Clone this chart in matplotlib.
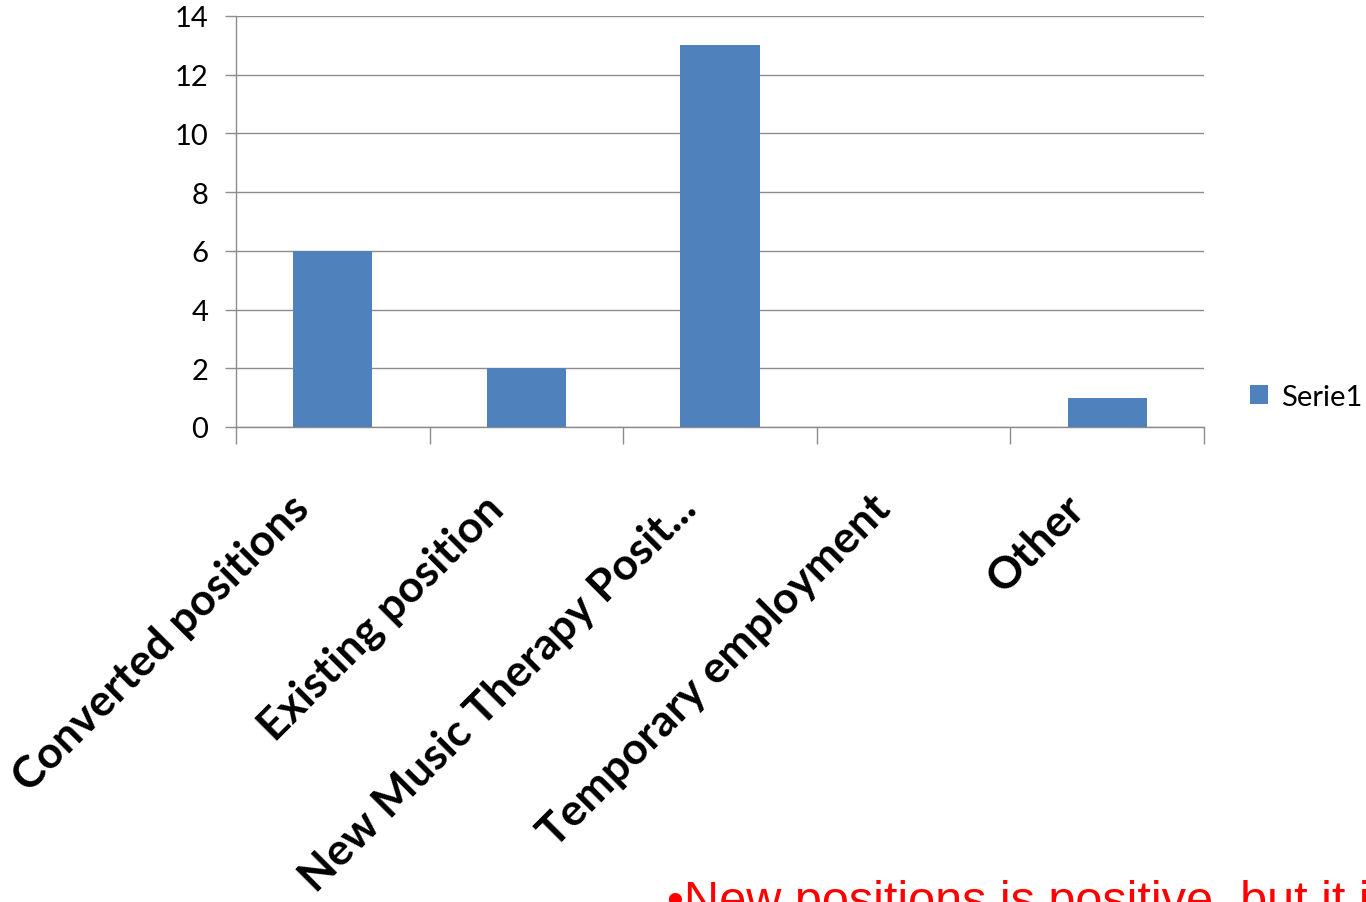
import matplotlib

matplotlib.use("Agg")

import matplotlib.pyplot as plt
import numpy as np

C_BAR = "#4f81bd"
C_GRID = "#8c8c8c"
C_RED = "#ff0000"

categories = [
    "Converted positions",
    "Existing position",
    "New Music Therapy Posit...",
    "Temporary employment",
    "Other",
]
values = [6, 2, 13, 0, 1]
y_ticks = [0, 2, 4, 6, 8, 10, 12, 14]
series_name = "Serie1"
note = "\u2022New positions is positive, but it is"

plt.rcParams["font.family"] = ["Lato", "DejaVu Sans"]

fig = plt.figure(figsize=(13.66, 9.03), dpi=100)
ax = fig.add_axes([236 / 1366, 1 - 428 / 903, 968 / 1366, 411 / 903])

x = np.arange(len(categories))
ax.bar(x, values, width=0.41, color=C_BAR, label=series_name, zorder=3)

ax.set_xlim(-0.5, len(categories) - 0.5)
ax.set_ylim(0, 14)
ax.set_yticks(y_ticks)
ax.set_yticklabels([str(v) for v in y_ticks], fontsize=21)
ax.yaxis.grid(True, color=C_GRID, lw=1.0, zorder=0)

# tick marks sit on the category boundaries
ax.set_xticks(np.arange(len(categories) + 1) - 0.5)
ax.set_xticklabels([])
ax.tick_params(axis="x", length=12, width=1.0, color=C_GRID, direction="out")
ax.tick_params(axis="y", length=8, width=1.0, color=C_GRID, direction="out", pad=12)

for side in ("top", "right"):
    ax.spines[side].set_visible(False)
for side in ("left", "bottom"):
    ax.spines[side].set_color(C_GRID)
    ax.spines[side].set_linewidth(1.0)

for i, name in enumerate(categories):
    ax.annotate(
        name,
        xy=(i, 0),
        xycoords=("data", "axes fraction"),
        xytext=(-44, -60),
        textcoords="offset pixels",
        rotation=45,
        rotation_mode="anchor",
        ha="right",
        va="top",
        fontsize=32,
        fontweight="bold",
        color="black",
    )

ax.legend(
    loc="center left",
    bbox_to_anchor=(1250 / 1366, 1 - 398 / 903),
    bbox_transform=fig.transFigure,
    frameon=False,
    fontsize=21,
    handlelength=0.6,
    handleheight=0.6,
    handletextpad=0.45,
    borderaxespad=0,
    borderpad=0,
)

fig.text(
    667 / 1366,
    1 - 915 / 903,
    note,
    fontsize=35,
    color=C_RED,
    family=["Liberation Sans", "DejaVu Sans"],
    ha="left",
    va="baseline",
)

fig.savefig("out.png", dpi=100, facecolor="white")
